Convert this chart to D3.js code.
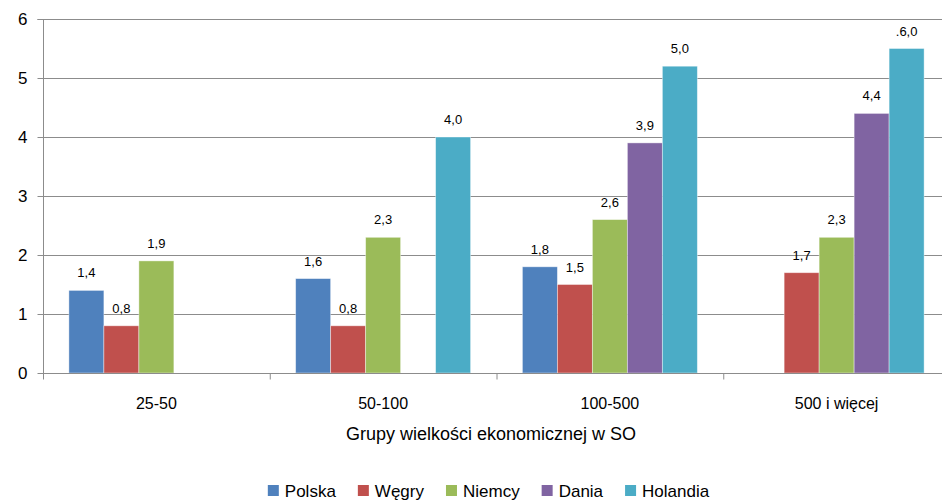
<html>
<head>
<meta charset="utf-8">
<script src="https://d3js.org/d3.v7.min.js"></script>
<style>
  body { margin: 0; background: #fff; }
  text { font-family: "Liberation Sans", "DejaVu Sans", sans-serif; fill: #000; }
</style>
</head>
<body>
<div id="chart"></div>
<script>
// data
categories = ["25-50", "50-100", "100-500", "500 i więcej"];
seriesNames = ["Polska", "Węgry", "Niemcy", "Dania", "Holandia"];
seriesColors = ["#4F81BD", "#C0504D", "#9BBB59", "#8064A2", "#4BACC6"];
polska   = [1.4, 1.6, 1.8, null];
wegry    = [0.8, 0.8, 1.5, 1.7];
niemcy   = [1.9, 2.3, 2.6, 2.3];
dania    = [null, null, 3.9, 4.4];
holandia = [null, 4.0, 5.2, 5.5];
// labels as printed on the chart (they do not always match the bar height)
polskaLabels   = ["1,4", "1,6", "1,8", null];
wegryLabels    = ["0,8", "0,8", "1,5", "1,7"];
niemcyLabels   = ["1,9", "2,3", "2,6", "2,3"];
daniaLabels    = [null, null, "3,9", "4,4"];
holandiaLabels = [null, "4,0", "5,0", ".6,0"];
yTicks = [0, 1, 2, 3, 4, 5, 6];
xTitle = "Grupy wielkości ekonomicznej w SO";

seriesValues = [polska, wegry, niemcy, dania, holandia];
seriesLabels = [polskaLabels, wegryLabels, niemcyLabels, daniaLabels, holandiaLabels];

width = 942;
height = 500;
plot = { left: 43, right: 950, top: 19, bottom: 373 };

svg = d3.select("#chart").append("svg")
    .attr("width", width)
    .attr("height", height);

x0 = d3.scaleBand()
    .domain(categories)
    .range([plot.left, plot.right])
    .paddingInner(0)
    .paddingOuter(0);

x1 = d3.scaleBand()
    .domain(seriesNames)
    .range([0, x0.bandwidth()])
    .paddingInner(0)
    .paddingOuter(0.74);

y = d3.scaleLinear()
    .domain([0, 6])
    .range([plot.bottom, plot.top]);

// gridlines
svg.append("g")
    .selectAll("line")
    .data(yTicks.slice(1))
    .join("line")
        .attr("x1", plot.left)
        .attr("x2", plot.right)
        .attr("y1", d => y(d) + 0.5)
        .attr("y2", d => y(d) + 0.5)
        .attr("stroke", "#8c8c8c")
        .attr("stroke-width", 1);

// bars
rows = [];
categories.forEach(function(c, i) {
    seriesNames.forEach(function(s, j) {
        if (seriesValues[j][i] != null) {
            rows.push({ cat: c, name: s, value: seriesValues[j][i], label: seriesLabels[j][i], color: seriesColors[j] });
        }
    });
});

svg.append("g")
    .selectAll("rect")
    .data(rows)
    .join("rect")
        .attr("x", d => x0(d.cat) + x1(d.name))
        .attr("y", d => y(d.value))
        .attr("width", x1.bandwidth())
        .attr("height", d => y(0) - y(d.value))
        .attr("fill", d => d.color)
        .attr("stroke", "#ffffff")
        .attr("stroke-opacity", 0.5)
        .attr("stroke-width", 0.8);

svg.append("g")
    .selectAll("text")
    .data(rows)
    .join("text")
        .attr("x", d => x0(d.cat) + x1(d.name) + x1.bandwidth() / 2)
        .attr("y", d => y(d.value) - 13)
        .attr("text-anchor", "middle")
        .attr("font-size", 13)
        .text(d => d.label);

// y axis
yAxis = svg.append("g")
    .attr("transform", `translate(${plot.left + 0.5},0)`)
    .call(d3.axisLeft(y).tickValues(yTicks).tickSize(6).tickPadding(10).tickFormat(d3.format("d")));
yAxis.select(".domain").attr("stroke", "#8c8c8c").attr("d", `M-6,${plot.top + 0.5}H0V${plot.bottom + 0.5}`);
yAxis.selectAll(".tick line").attr("stroke", "#8c8c8c");
yAxis.selectAll(".tick text").attr("font-size", 17).attr("font-family", "Liberation Sans").attr("fill", "#000");

// x axis
xAxisG = svg.append("g")
    .attr("transform", `translate(0,${plot.bottom + 0.5})`);
xAxisG.append("line")
    .attr("x1", plot.left).attr("x2", plot.right)
    .attr("stroke", "#8c8c8c");
xAxisG.selectAll(".sep")
    .data(categories.concat(["end"]))
    .join("line")
        .attr("class", "sep")
        .attr("x1", (d, i) => plot.left + 0.5 + i * x0.bandwidth())
        .attr("x2", (d, i) => plot.left + 0.5 + i * x0.bandwidth())
        .attr("y1", 0)
        .attr("y2", 6)
        .attr("stroke", "#8c8c8c");
xAxisG.selectAll(".lab")
    .data(categories)
    .join("text")
        .attr("class", "lab")
        .attr("x", d => x0(d) + x0.bandwidth() / 2)
        .attr("y", 35)
        .attr("text-anchor", "middle")
        .attr("font-size", 16)
        .text(d => d);

svg.append("text")
    .attr("x", 491)
    .attr("y", 440)
    .attr("text-anchor", "middle")
    .attr("font-size", 18)
    .attr("font-family", "Open Sans")
    .text(xTitle);

// legend
legend = svg.append("g");
items = legend.selectAll("g")
    .data(seriesNames)
    .join("g");
items.append("rect")
    .attr("width", 11)
    .attr("height", 11)
    .attr("y", 485)
    .attr("fill", (d, i) => seriesColors[i]);
items.append("text")
    .attr("x", 17)
    .attr("y", 497)
    .attr("font-size", 17)
    .text(d => d);
pos = 0;
offsets = [];
items.each(function(d) {
    offsets.push(pos);
    w = this.querySelector("text").getComputedTextLength();
    pos += 17 + w + 22;
});
totalW = pos - 22;
startX = 254 + ((723 - 254) - totalW) / 2;
items.attr("transform", (d, i) => `translate(${startX + offsets[i]},0)`);
</script>
</body>
</html>
